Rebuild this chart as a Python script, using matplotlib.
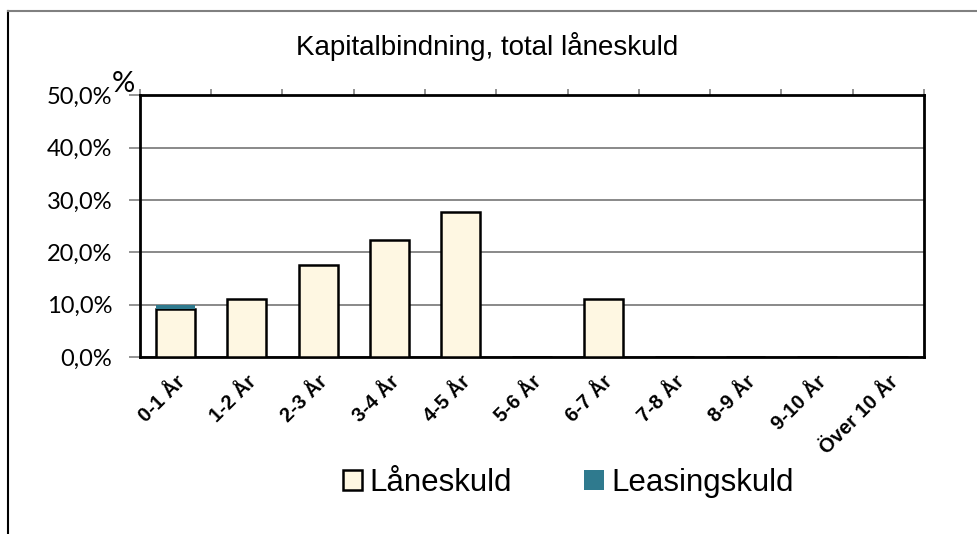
import numpy as np
import matplotlib
matplotlib.use('Agg')
import matplotlib.pyplot as plt
from matplotlib.lines import Line2D

categories = ['0-1 År', '1-2 År', '2-3 År', '3-4 År', '4-5 År', '5-6 År',
              '6-7 År', '7-8 År', '8-9 År', '9-10 År', 'Över 10 År']
laneskuld = [9.2, 11.1, 17.6, 22.3, 27.8, 0, 11.1, 0, 0, 0, 0]
leasingskuld = [0.7, 0, 0, 0, 0, 0, 0, 0, 0, 0, 0]
yticks = [0, 10, 20, 30, 40, 50]

cream = '#FEF7E2'
teal = '#2F7A8E'

fig = plt.figure(figsize=(9.78, 5.34), dpi=100)
ax = fig.add_axes([0.1431, 0.3315, 0.8016, 0.4897])

x = np.arange(len(categories))
ax.bar(x, laneskuld, width=0.55, color=cream, edgecolor='black', linewidth=1.8,
       zorder=3, label='Låneskuld')
ax.bar(x, leasingskuld, width=0.55, bottom=laneskuld, color=teal, edgecolor='none',
       zorder=3, label='Leasingskuld')

ax.set_xlim(-0.5, len(categories) - 0.5)
ax.set_ylim(0, 50)
ax.set_yticks(yticks)
ax.set_yticklabels(['{:.1f}%'.format(v).replace('.', ',') for v in yticks],
                   family=['Lato', 'DejaVu Sans'], fontsize=17)
ax.yaxis.grid(True, color='#808080', linewidth=1.3, zorder=0)
ax.tick_params(axis='y', length=8, color='#808080', width=1.2, pad=12)

ax.set_xticks(x)
ax.set_xticklabels(categories, rotation=45, ha='right', rotation_mode='anchor',
                   fontweight='bold', family='Liberation Sans', fontsize=14.5)
ax.tick_params(axis='x', which='major', length=0, pad=11)
ax.set_xticks(np.arange(-0.5, len(categories), 1), minor=True)
ax.tick_params(axis='x', which='minor', bottom=False, top=True, length=4,
               color='#808080', width=1.2)

for s in ax.spines.values():
    s.set_linewidth(2)
    s.set_color('black')

fig.text(0.498, 0.912, 'Kapitalbindning, total låneskuld', ha='center', va='center',
         family='Liberation Sans', fontsize=20)
fig.text(0.126, 0.842, '%', ha='center', va='center', family=['Lato', 'DejaVu Sans'],
         fontsize=21)

fig.legend(loc='center', bbox_to_anchor=(0.581, 0.0955), ncol=2, frameon=False,
           prop={'family': 'Liberation Sans', 'size': 22.5}, handlelength=0.62,
           handleheight=0.62, handletextpad=0.25, columnspacing=2.3)

# outer chart frame (left and top edges)
fig.add_artist(Line2D([0.0082, 0.0082], [0, 0.979], color='black', linewidth=1.5))
fig.add_artist(Line2D([0.0082, 1.0], [0.979, 0.979], color='#808080', linewidth=1.5))

fig.savefig('out.png', dpi=100)
